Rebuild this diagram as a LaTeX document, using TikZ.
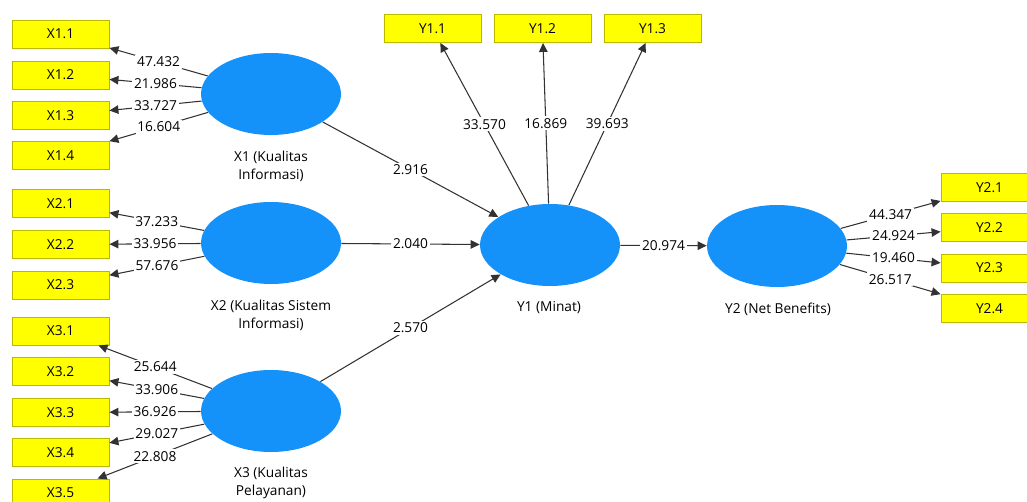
\documentclass[tikz,border=0pt]{standalone}
\usepackage{fontspec}
\setmainfont{Open Sans}
\usetikzlibrary{arrows.meta,shapes.geometric}
\definecolor{lvblue}{RGB}{20,146,250}
\definecolor{mvyellow}{RGB}{255,255,0}
\definecolor{mvborder}{RGB}{185,185,0}
\definecolor{edgegray}{RGB}{50,50,50}
\tikzset{
  txt/.style={font=\fontsize{7.8}{10.2}\selectfont},
  lv/.style={ellipse, fill=lvblue, draw=none, minimum width=2.8cm, minimum height=1.64cm, inner sep=0pt},
  mv/.style={rectangle, fill=mvyellow, draw=mvborder, line width=0.5pt, minimum width=1.94cm, minimum height=0.56cm, inner sep=0pt, txt},
  lvname/.style={align=center, txt, inner sep=0pt},
  conn/.style={draw=edgegray, line width=0.6pt, -{Triangle[length=1.8mm,width=1.7mm]}},
  val/.style={fill=white, inner sep=1pt, txt, midway}
}
\begin{document}
\begin{tikzpicture}[x=0.02cm,y=-0.02cm]
\useasboundingbox (0,0) rectangle (1027,502);
\clip (0,0) rectangle (1027,502);
% latent variables
\node[lv] (X1) at (271,94) {};
\node[lv] (X2) at (271,243) {};
\node[lv] (X3) at (271,411) {};
\node[lv] (Y1) at (550,245) {};
\node[lv] (Y2) at (777,246) {};
\node[lvname] (X1n) at (271,166) {X1 (Kualitas\\Informasi)};
\node[lvname] (X2n) at (271,315) {X2 (Kualitas Sistem\\Informasi)};
\node[lvname] (X3n) at (271,483) {X3 (Kualitas\\Pelayanan)};
\node[lvname] (Y1n) at (549,308) {Y1 (Minat)};
\node[lvname] (Y2n) at (778,309) {Y2 (Net Benefits)};
% indicators
\node[mv] (x11) at (60.5,34) {X1.1};
\node[mv] (x12) at (60.5,75) {X1.2};
\node[mv] (x13) at (60.5,115.5) {X1.3};
\node[mv] (x14) at (60.5,155.5) {X1.4};
\node[mv] (x21) at (60.5,203.5) {X2.1};
\node[mv] (x22) at (60.5,244.5) {X2.2};
\node[mv] (x23) at (60.5,285) {X2.3};
\node[mv] (x31) at (60.5,331) {X3.1};
\node[mv] (x32) at (60.5,371.5) {X3.2};
\node[mv] (x33) at (60.5,412.5) {X3.3};
\node[mv] (x34) at (60.5,452.5) {X3.4};
\node[mv] (x35) at (60.5,493) {X3.5};
\node[mv] (y11) at (432.5,28.5) {Y1.1};
\node[mv] (y12) at (542.5,28.5) {Y1.2};
\node[mv] (y13) at (652.5,28.5) {Y1.3};
\node[mv] (y21) at (989.5,187.5) {Y2.1};
\node[mv] (y22) at (989.5,227.5) {Y2.2};
\node[mv] (y23) at (989.5,268) {Y2.3};
\node[mv] (y24) at (989.5,308.5) {Y2.4};
% loadings
\draw[conn] (X1) -- node[val] {47.432} (x11);
\draw[conn] (X1) -- node[val] {21.986} (x12);
\draw[conn] (X1) -- node[val] {33.727} (x13);
\draw[conn] (X1) -- node[val] {16.604} (x14);
\draw[conn] (X2) -- node[val] {37.233} (x21);
\draw[conn] (X2) -- node[val] {33.956} (x22);
\draw[conn] (X2) -- node[val] {57.676} (x23);
\draw[conn] (X3) -- node[val] {25.644} (x31);
\draw[conn] (X3) -- node[val] {33.906} (x32);
\draw[conn] (X3) -- node[val] {36.926} (x33);
\draw[conn] (X3) -- node[val] {29.027} (x34);
\draw[conn] (X3) -- node[val] {22.808} (x35);
\draw[conn] (Y1) -- node[val] {33.570} (y11);
\draw[conn] (Y1) -- node[val] {16.869} (y12);
\draw[conn] (Y1) -- node[val] {39.693} (y13);
\draw[conn] (Y2) -- node[val] {44.347} (y21);
\draw[conn] (Y2) -- node[val] {24.924} (y22);
\draw[conn] (Y2) -- node[val] {19.460} (y23);
\draw[conn] (Y2) -- node[val] {26.517} (y24);
% paths
\draw[conn] (X1) -- node[val] {2.916} (Y1);
\draw[conn] (X2) -- node[val] {2.040} (Y1);
\draw[conn] (X3) -- node[val] {2.570} (Y1);
\draw[conn] (Y1) -- node[val] {20.974} (Y2);
\end{tikzpicture}
\end{document}
